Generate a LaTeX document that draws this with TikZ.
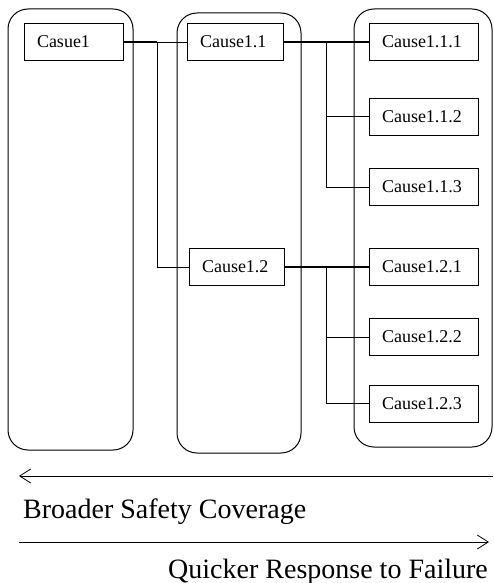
\documentclass[tikz,border=0pt]{standalone}
\usepackage{fontspec}
\newfontfamily\timesfont{Liberation Serif}
\usetikzlibrary{arrows.meta, positioning}
\tikzset{
    column/.style={draw, rounded corners=20pt, line width=1pt},
    cause/.style={rectangle, draw, line width=0.8pt, inner xsep=13pt, inner ysep=0pt, minimum height=37pt, align=left, font=\timesfont\fontsize{18}{20}\selectfont},
    trunk/.style={line width=1.5pt},
    branch/.style={line width=0.8pt},
    trend/.style={-{Straight Barb[length=11pt, width=14pt]}, line width=0.8pt},
    caption/.style={font=\timesfont\fontsize{28}{30}\selectfont, inner sep=0pt}
}

\begin{document}
\begin{tikzpicture}[x=1pt, y=-1pt]
    \useasboundingbox (0,0) rectangle (493,583);

    % Level columns
    \draw[column] (8,9) rectangle (133,450);
    \draw[column] (177,13) rectangle (301,453);
    \draw[column] (354,9) rectangle (492,447);

    % Level 1
    \node[cause, text width=73pt] (c1) at (73.5,42) {Casue1};

    % Level 2
    \node[cause, text width=70pt] (c11) at (235,42) {Cause1.1};
    \node[cause, text width=69pt] (c12) at (236.5,267) {Cause1.2};

    % Level 3
    \node[cause, text width=83pt] (c111) at (423.5,42) {Cause1.1.1};
    \node[cause, text width=83pt] (c112) at (423.5,116.5) {Cause1.1.2};
    \node[cause, text width=83pt] (c113) at (423.5,187) {Cause1.1.3};
    \node[cause, text width=83pt] (c121) at (423.5,267) {Cause1.2.1};
    \node[cause, text width=83pt] (c122) at (423.5,337) {Cause1.2.2};
    \node[cause, text width=83pt] (c123) at (423.5,403.5) {Cause1.2.3};

    % Connections
    \coordinate (j1) at (157,42);
    \coordinate (j11) at (326,42);
    \coordinate (j12) at (326,267);

    \draw[trunk] (c1) -- (j1);
    \draw[branch] (j1) -- (c11);
    \draw[branch] (j1) |- (c12);

    \draw[trunk] (c11) -- (c111);
    \draw[branch] (j11) |- (c112);
    \draw[branch] (j11) |- (c113);

    \draw[trunk] (c12) -- (c121);
    \draw[branch] (j12) |- (c122);
    \draw[branch] (j12) |- (c123);

    % Trade-off arrows
    \coordinate (broadR) at (493,476);
    \coordinate (broadL) at (19,476);
    \coordinate (quickL) at (19,542);
    \coordinate (quickR) at (489,542);
    \draw[trend] (broadR) -- (broadL);
    \draw[trend] (quickL) -- (quickR);

    \node[caption, anchor=base west] (broad) at (23,518) {Broader Safety Coverage};
    \node[caption, anchor=base east] (quick) at (488,578) {Quicker Response to Failure};
\end{tikzpicture}
\end{document}
